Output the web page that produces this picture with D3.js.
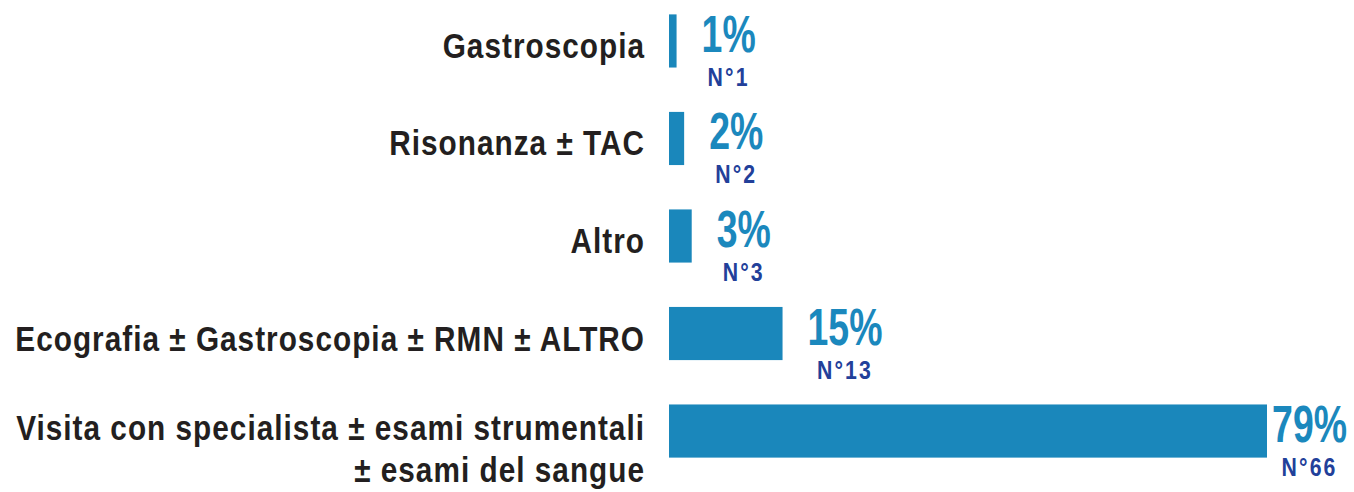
<!DOCTYPE html>
<html>
<head>
<meta charset="utf-8">
<script src="https://cdn.jsdelivr.net/npm/d3@7"></script>
<style>
    html, body { margin: 0; padding: 0; background: #fff; }
    svg { display: block; }
    text { font-family: "Liberation Sans", Arial, sans-serif; font-weight: bold; }
    .label { fill: #231f20; }
    .pct { fill: #1b88bd; }
    .num { fill: #22409a; }
</style>
</head>
<body>
<svg id="chart" width="1354" height="492"></svg>
<script>
// data
var categories = [
    ["Gastroscopia"],
    ["Risonanza ± TAC"],
    ["Altro"],
    ["Ecografia ± Gastroscopia ± RMN ± ALTRO"],
    ["Visita con specialista ± esami strumentali", "± esami del sangue"]
]
var percents = [1, 2, 3, 15, 79]
var counts = [1, 2, 3, 13, 66]

var width = 1354, height = 492
var labelRight = 645
var svg = d3.select("#chart")

var x = d3.scaleLinear()
    .domain([0, d3.max(percents)])
    .range([669, 1267])

var y = d3.scaleBand()
    .domain(d3.range(categories.length))
    .range([-7.75, 479.75])
    .paddingInner(0.455)
    .paddingOuter(0.227)

var rows = svg.selectAll("g.row")
    .data(d3.range(categories.length))
    .enter().append("g")
    .attr("class", "row")

// bars
rows.append("rect")
    .attr("x", x(0))
    .attr("y", function(i) { return y(i) })
    .attr("width", function(i) { return x(percents[i]) - x(0) })
    .attr("height", y.bandwidth())
    .attr("fill", "#1a87bb")

// category labels (condensed look via horizontal scale, no narrow font installed)
rows.each(function(i) {
    var lines = categories[i]
    var cy = y(i) + y.bandwidth() / 2
    var t = d3.select(this).append("text")
        .attr("class", "label")
        .attr("text-anchor", "end")
        .attr("font-size", 35)
        .attr("letter-spacing", 1.2)
        .attr("transform", "translate(" + labelRight + "," + (cy + 17 - (lines.length - 1) * 8) + ") scale(0.85,1)")
    lines.forEach(function(line, k) {
        t.append("tspan")
            .attr("x", 0)
            .attr("dy", k == 0 ? 0 : 42)
            .text(line)
    })
})

// value labels
rows.each(function(i) {
    var g = d3.select(this)
    var cy = y(i) + y.bandwidth() / 2
    var sx = 0.72
    var pct = g.append("text")
        .attr("class", "pct")
        .attr("font-size", 52)
        .text(percents[i] + "%")
    var w = pct.node().getBBox().width * sx
    var px = Math.min(x(percents[i]) + 25, width - 7 - w)
    pct.attr("transform", "translate(" + px + "," + (cy + 11) + ") scale(" + sx + ",1)")

    g.append("text")
        .attr("class", "num")
        .attr("font-size", 25)
        .attr("letter-spacing", 2.5)
        .attr("text-anchor", "middle")
        .attr("transform", "translate(" + (px + w / 2) + "," + (cy + 45) + ") scale(0.85,1)")
        .text("N°" + counts[i])
})
</script>
</body>
</html>
